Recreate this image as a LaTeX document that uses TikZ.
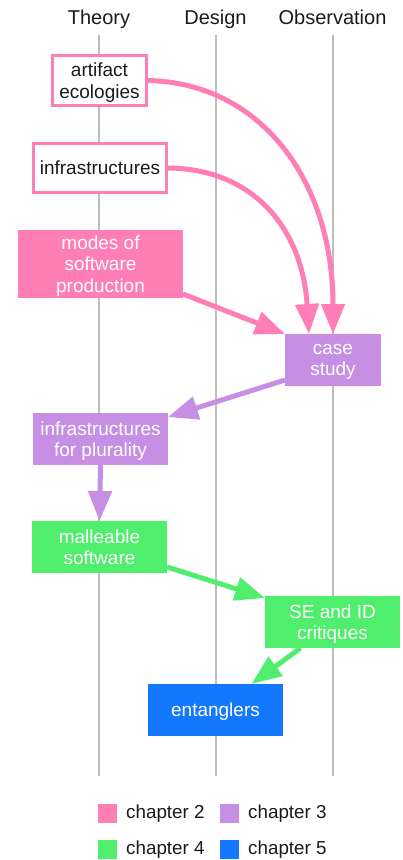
\documentclass[tikz,border=0pt]{standalone}
\usepackage{fontspec}
\setmainfont{Liberation Sans}
\usetikzlibrary{arrows.meta}
\definecolor{cpink}{HTML}{FF7EB6}
\definecolor{cpurple}{HTML}{C68FE4}
\definecolor{cgreen}{HTML}{4FEE6C}
\definecolor{cblue}{HTML}{1478FF}
\definecolor{ctext}{HTML}{1A1A1A}
\definecolor{cgrid}{HTML}{BDBDBD}
\tikzset{
  lane/.style={draw=cgrid, line width=1.1pt},
  header/.style={text=ctext, font=\fontsize{20}{24}\selectfont, anchor=base, inner sep=0pt},
  boxbase/.style={rectangle, inner sep=0pt, outer sep=0pt, align=center, text depth=0pt,
    font=\fontsize{19}{21.7}\selectfont},
  openbox/.style={boxbase, draw=cpink, line width=2.7pt, fill=white, text=ctext},
  fillbox/.style={boxbase, text=white},
  conn/.style={line width=5pt, -{Triangle[length=30pt,width=23pt]}},
  legsq/.style={rectangle, minimum width=19pt, minimum height=19pt, inner sep=0pt},
  legtxt/.style={anchor=west, inner sep=0pt, text=ctext, font=\fontsize{18.8}{21.7}\selectfont},
}
\begin{document}
\begin{tikzpicture}[x=1pt,y=-1pt]
\useasboundingbox (0,0) rectangle (402,860);
% lanes
\coordinate (t1) at (99,35);  \coordinate (t2) at (99,776);
\coordinate (d1) at (216,35); \coordinate (d2) at (216,776);
\coordinate (o1) at (333,35); \coordinate (o2) at (333,776);
\draw[lane] (t1) -- (t2);
\draw[lane] (d1) -- (d2);
\draw[lane] (o1) -- (o2);
% headers
\node[header] (hT) at (99,24) {Theory};
\node[header] (hD) at (215.5,24) {Design};
\node[header] (hO) at (332.5,24) {Observation};
% boxes
\node[openbox, minimum width=94.3pt, minimum height=50.3pt] (art) at (99.5,80.5) {artifact\\ecologies};
\node[openbox, minimum width=133.3pt, minimum height=49.3pt] (infra) at (100,168) {infrastructures};
\node[fillbox, fill=cpink, minimum width=165pt, minimum height=68pt] (modes) at (100.5,264) {modes of\\software\\production};
\node[fillbox, fill=cpurple, minimum width=96pt, minimum height=52pt] (case) at (333,360) {case\\study};
\node[fillbox, fill=cpurple, minimum width=135pt, minimum height=52pt] (plur) at (100.5,439) {infrastructures\\for plurality};
\node[fillbox, fill=cgreen, minimum width=135pt, minimum height=52pt] (mall) at (99.5,547) {malleable\\software};
\node[fillbox, fill=cgreen, minimum width=135pt, minimum height=52pt] (se) at (332.5,622) {SE and ID\\critiques};
\node[fillbox, fill=cblue, minimum width=135pt, minimum height=52pt] (ent) at (215.5,710) {entanglers};
% connectors
\draw[conn, cpink] (art.east) .. controls (260,82) and (333,180) .. (case.north);
\draw[conn, cpink] (infra.east) .. controls (250,168) and (302,225) .. ([xshift=-24pt]case.north);
\draw[conn, cpink] ([yshift=4pt]modes.south east) -- (case.north west);
\draw[conn, cpurple] ([yshift=6pt]case.south west) -- ([yshift=-4pt]plur.north east);
\draw[conn, cpurple] (plur.south) -- (mall.north);
\draw[conn, cgreen] ([yshift=6pt]mall.south east) -- ([yshift=-2pt]se.north west);
\draw[conn, cgreen] ([xshift=-32pt]se.south) -- ([xshift=36pt]ent.north);
% legend
\node[legsq, fill=cpink] (l2) at (107.5,813.5) {};
\node[legtxt] (t2l) at (126,813.5) {chapter 2};
\node[legsq, fill=cpurple] (l3) at (229.5,813.5) {};
\node[legtxt] (t3l) at (248,813.5) {chapter 3};
\node[legsq, fill=cgreen] (l4) at (107.5,849.5) {};
\node[legtxt] (t4l) at (126,849.5) {chapter 4};
\node[legsq, fill=cblue] (l5) at (229.5,849.5) {};
\node[legtxt] (t5l) at (248,849.5) {chapter 5};
\end{tikzpicture}
\end{document}
